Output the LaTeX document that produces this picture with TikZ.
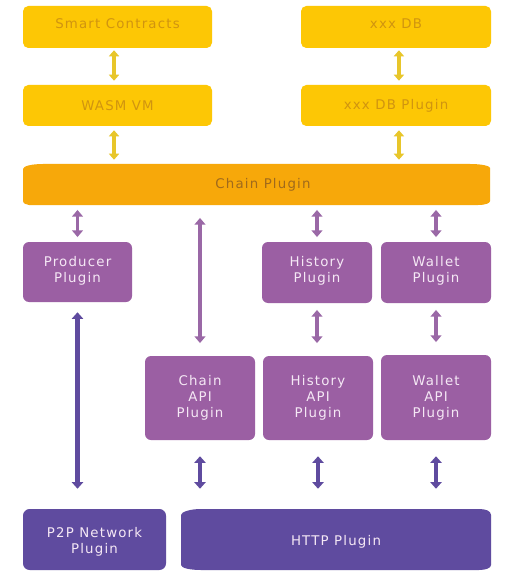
\documentclass[tikz,border=0pt]{standalone}
\usepackage{fontspec}
\setmainfont[LetterSpace=9]{DejaVu Sans}
\usetikzlibrary{arrows.meta}
\definecolor{yel}{HTML}{FDC705}
\definecolor{yelline}{HTML}{E8C62A}
\definecolor{yeltext}{HTML}{D09410}
\definecolor{org}{HTML}{F7A80A}
\definecolor{orgtext}{HTML}{A06A1C}
\definecolor{pur}{HTML}{9B5FA3}
\definecolor{purline}{HTML}{9A68A6}
\definecolor{dark}{HTML}{5F4B9F}
\definecolor{lighttext}{HTML}{F5E8F5}
\newcommand\liftby[1]{\rule[-#1]{0pt}{#1}}
\newcommand\dropby[1]{\rule{0pt}{#1}}
\tikzset{
  x=0.75pt,y=-0.75pt,
  plate/.style 2 args={minimum width=#1*0.75pt,minimum height=#2*0.75pt,inner sep=0pt,align=center,font=\fontsize{10pt}{12pt}\selectfont},
  yelbox/.style 2 args={plate={#1}{#2},fill=yel,rounded corners=4pt,text=yeltext},
  purbox/.style 2 args={plate={#1}{#2},fill=pur,rounded corners=4.5pt,text=lighttext},
  darkbox/.style 2 args={plate={#1}{#2},fill=dark,rounded corners=5pt,text=lighttext},
  yellink/.style={draw=yelline,line width=2.6pt,{Triangle[width=7.5pt,length=4.5pt]}-{Triangle[width=7.5pt,length=4.5pt]}},
  purlink/.style={draw=purline,line width=2.8pt,{Triangle[width=8pt,length=5pt]}-{Triangle[width=8pt,length=5pt]}},
  darklink/.style={draw=dark,line width=3.3pt,{Triangle[width=8.5pt,length=5pt]}-{Triangle[width=8.5pt,length=5pt]}},
}
\begin{document}
\begin{tikzpicture}
\useasboundingbox[fill=white] (0,0) rectangle (504,577);
% free-form plates
\fill[org] (23,169) .. controls (23,166) and (32,164) .. (43,164) -- (470,164)
  .. controls (482,164) and (490,166) .. (490,168) -- (490,201)
  .. controls (490,203) and (486,205) .. (478,205) -- (29,205)
  .. controls (26,205) and (23,203) .. (23,201) -- cycle;
\fill[dark] (181,515) .. controls (181,512) and (190,509) .. (201,509) -- (479,509)
  .. controls (486,509) and (491,511) .. (491,515) -- (491,565)
  .. controls (491,568) and (486,570) .. (479,570) -- (201,570)
  .. controls (190,570) and (181,568) .. (181,565) -- cycle;
% nodes
\node[yelbox={189}{42}] (smart) at (117.5,27) {Smart Contracts\liftby{4.5pt}};
\node[yelbox={189}{41}] (wasm) at (117.5,105.5) {WASM VM};
\node[yelbox={190}{42}] (db) at (396,27) {xxx DB\liftby{4.5pt}};
\node[yelbox={190}{41}] (dbp) at (396,105.5) {xxx DB Plugin};
\node[plate={467}{41},text=orgtext] (chain) at (263,184.5) {Chain Plugin};
\node[purbox={109}{60}] (prod) at (77.5,272) {Producer\\Plugin\liftby{3.5pt}};
\node[purbox={110}{61}] (hist) at (317,272.5) {History\\Plugin\liftby{5pt}};
\node[purbox={110}{61}] (wall) at (436,272.5) {Wallet\\Plugin\liftby{5pt}};
\node[purbox={110}{84}] (capi) at (200,398) {Chain\\API\\Plugin};
\node[purbox={110}{84}] (hapi) at (318,398) {History\\API\\Plugin};
\node[purbox={110}{85}] (wapi) at (436,397.5) {Wallet\\API\\Plugin};
\node[darkbox={143}{61}] (p2p) at (94.5,539.5) {\dropby{10.5pt}P2P Network\\Plugin};
\node[plate={310}{61},text=lighttext] (http) at (336,539.5) {\dropby{10.5pt}HTTP Plugin};
% connectors
\draw[yellink,shorten <=1.5pt,shorten >=3pt] ([xshift=-2.6pt]smart.south) -- ([xshift=-2.6pt]wasm.north);
\draw[yellink,shorten <=3pt,shorten >=3pt] ([xshift=-2.6pt]wasm.south) -- ([xshift=-2.6pt]wasm.south |- chain.north);
\draw[yellink,shorten <=1.5pt,shorten >=3pt] ([xshift=2.2pt]db.south) -- ([xshift=2.2pt]dbp.north);
\draw[yellink,shorten <=3pt,shorten >=3pt] ([xshift=2.2pt]dbp.south) -- ([xshift=2.2pt]dbp.south |- chain.north);
\draw[purlink,shorten <=3.5pt,shorten >=3.5pt] (prod.north |- chain.south) -- (prod.north);
\draw[purlink,shorten <=9.5pt,shorten >=9.5pt] (capi.north |- chain.south) -- (capi.north);
\draw[purlink,shorten <=3.5pt,shorten >=3.5pt] (hist.north |- chain.south) -- (hist.north);
\draw[purlink,shorten <=3.5pt,shorten >=3.5pt] (wall.north |- chain.south) -- (wall.north);
\draw[purlink,shorten <=5pt,shorten >=9.5pt] (hist.south) -- (hist.south |- hapi.north);
\draw[purlink,shorten <=5pt,shorten >=9.5pt] (wall.south) -- (wall.south |- wapi.north);
\draw[darklink,shorten <=7.5pt,shorten >=15pt] (prod.south) -- (prod.south |- p2p.north);
\draw[darklink,shorten <=12pt,shorten >=15pt] (capi.south) -- (capi.south |- http.north);
\draw[darklink,shorten <=12pt,shorten >=15pt] (hapi.south) -- (hapi.south |- http.north);
\draw[darklink,shorten <=12pt,shorten >=15pt] (wapi.south) -- (wapi.south |- http.north);
\end{tikzpicture}
\end{document}
